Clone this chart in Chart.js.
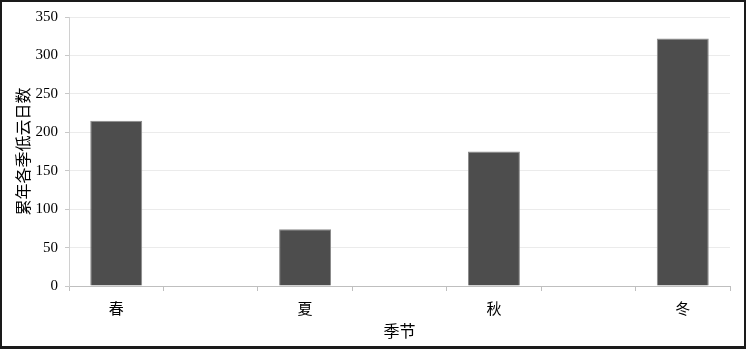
<!DOCTYPE html>
<html>
<head>
<meta charset="utf-8">
<script src="https://cdn.jsdelivr.net/npm/chart.js@4/dist/chart.umd.min.js"></script>
<style>
  html, body { margin: 0; padding: 0; background: #fff; }
  #wrap { position: relative; width: 746px; height: 349px; }
  #frame { position: absolute; left: 0; top: 0; width: 746px; height: 349px; box-sizing: border-box; border: 2px solid #1a1a1a; border-bottom-width: 3px; pointer-events: none; }
</style>
</head>
<body>
<div id="wrap">
  <canvas id="c" width="746" height="349"></canvas>
  <div id="frame"></div>
</div>
<script>
const categories = ['春', '', '夏', '', '秋', '', '冬'];
const values = [215, null, 74, null, 175, null, 322];
const yMin = 0;
const yMax = 350;
const yStep = 50;
const xTitle = '季节';
const yTitle = '累年各季低云日数';

const FONT = "'Liberation Serif', 'Times New Roman', 'Noto Sans CJK SC', serif";

new Chart(document.getElementById('c'), {
  type: 'bar',
  data: {
    labels: categories,
    datasets: [{
      data: values,
      backgroundColor: '#4d4d4d',
      borderColor: '#8a8a8a',
      borderWidth: 1,
      categoryPercentage: 1,
      barPercentage: 0.55
    }]
  },
  options: {
    responsive: false,
    animation: false,
    devicePixelRatio: 1,
    layout: { padding: { top: 17, right: 16, left: 0, bottom: 0 } },
    plugins: { legend: { display: false }, tooltip: { enabled: false } },
    scales: {
      x: {
        offset: true,
        grid: { offset: true, drawOnChartArea: false, drawTicks: true, tickLength: 5, color: '#bfbfbf' },
        border: { color: '#bfbfbf', width: 1 },
        ticks: { color: '#000', font: { family: FONT, size: 15 }, padding: 10, maxRotation: 0, autoSkip: false },
        title: { display: true, text: xTitle, color: '#000', font: { family: FONT, size: 16 }, padding: { top: 0, bottom: 7 } },
        afterFit: (s) => { s.height = 63; }
      },
      y: {
        min: yMin,
        max: yMax,
        grid: { color: '#ebebeb', drawTicks: true, tickLength: 4, tickColor: '#c8c8c8' },
        border: { color: '#d0d0d0', width: 1 },
        ticks: { stepSize: yStep, color: '#000', font: { family: FONT, size: 15 }, padding: 7 },
        title: { display: true, text: yTitle, color: '#000', font: { family: FONT, size: 16 }, padding: { top: 15, bottom: 0 } },
        afterFit: (s) => { s.width = 69; }
      }
    }
  }
});
</script>
</body>
</html>
